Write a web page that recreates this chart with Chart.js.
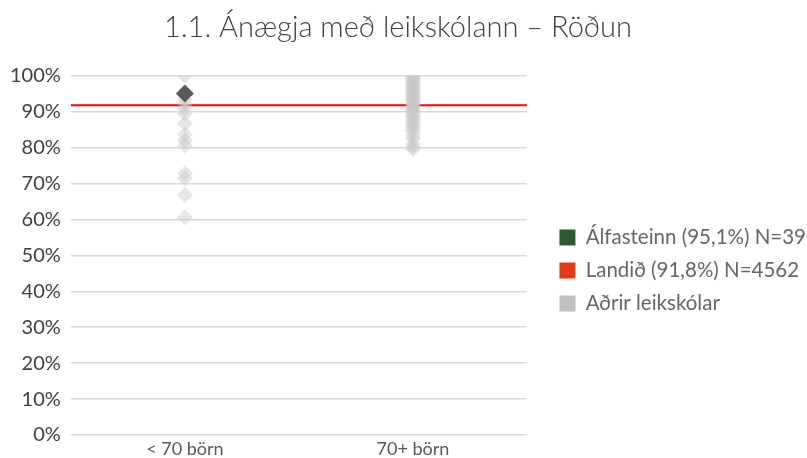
<!DOCTYPE html>
<html>
<head>
<meta charset="utf-8">
<script src="https://cdn.jsdelivr.net/npm/chart.js@4"></script>
<style>
  html, body { margin: 0; padding: 0; background: #fff; }
  #wrap { width: 807px; height: 458px; }
</style>
</head>
<body>
<div id="wrap"><canvas id="chart" width="807" height="458"></canvas></div>
<script>
const categories = ["< 70 börn", "70+ börn"];
const catPos = [0.5, 1.5];

// Aðrir leikskólar, < 70 börn
const otherSmall = [100, 93.4, 92.2, 90.8, 89.5, 86.7, 83.7, 82, 80.6, 72.8, 71.5, 66.8, 60.6];
// Aðrir leikskólar, 70+ börn
const otherLarge = [100, 99.6, 99.2, 98.8, 98.3, 97.9, 97.5, 97, 96.6, 96.1, 95.7, 95.2, 94.8,
  94.3, 93.9, 93.4, 92.9, 92.5, 92, 91.5, 91, 90.6, 90.1, 89.6, 89, 88.5, 88, 87.3, 86.6, 86,
  85.2, 84.5, 83.3, 82.5, 81, 80.2, 79.6];
const schoolValue = 95.1;   // Álfasteinn, < 70 börn
const nationalValue = 91.8; // Landið

const legendLabels = ["Álfasteinn (95,1%) N=39", "Landið (91,8%) N=4562", "Aðrir leikskólar"];
const legendColors = ["#2f5a30", "#e03c17", "#bfbfbf"];

const font = "Lato, 'Open Sans', sans-serif";

const grayPoints = otherSmall.map(v => ({ x: catPos[0], y: v }))
  .concat(otherLarge.map(v => ({ x: catPos[1], y: v })));

// push the legend a bit away from the plot, like the original
const legendShift = {
  id: "legendShift",
  afterLayout(chart) {
    const lg = chart.legend;
    const w = lg.right - lg.left;
    lg.left = chart.chartArea.right + 20;
    lg.right = lg.left + w;
  }
};

new Chart(document.getElementById("chart"), {
  type: "scatter",
  data: {
    datasets: [
      {
        label: legendLabels[0],
        data: [{ x: catPos[0], y: schoolValue }],
        pointStyle: "rectRot",
        pointRadius: 9,
        backgroundColor: "#595959",
        borderColor: "#595959",
        borderWidth: 0,
        order: 0
      },
      {
        label: legendLabels[1],
        type: "line",
        data: [{ x: 0, y: nationalValue }, { x: 2, y: nationalValue }],
        borderColor: "#ff0000",
        borderWidth: 2,
        pointRadius: 0,
        order: 2
      },
      {
        label: legendLabels[2],
        data: grayPoints,
        pointStyle: "rectRot",
        pointRadius: 8,
        backgroundColor: "rgba(200,200,200,0.45)",
        borderWidth: 0,
        order: 1
      }
    ]
  },
  options: {
    responsive: false,
    animation: false,
    layout: { autoPadding: false, padding: { left: 0, right: 11, top: 0, bottom: -5 } },
    plugins: {
      title: {
        display: true,
        text: "1.1. Ánægja með leikskólann – Röðun",
        color: "#404040",
        font: { family: font, size: 29, weight: "300" },
        padding: { top: 10, bottom: 31 }
      },
      legend: {
        position: "right",
        maxWidth: 320,
        title: { display: true, text: " ", font: { size: 10 }, padding: 33 },
        labels: {
          color: "#404040",
          font: { family: font, size: 20.5 },
          boxWidth: 16,
          boxHeight: 16,
          padding: 12.5,
          generateLabels: () => legendLabels.map((t, i) => ({
            text: t,
            fillStyle: legendColors[i],
            strokeStyle: legendColors[i],
            lineWidth: 0,
            datasetIndex: i
          }))
        }
      },
      tooltip: { enabled: false }
    },
    scales: {
      x: {
        type: "linear",
        min: 0,
        max: 2,
        afterBuildTicks: axis => { axis.ticks = catPos.map(v => ({ value: v })); },
        ticks: {
          color: "#595959",
          font: { family: font, size: 18, lineHeight: 1 },
          callback: v => categories[catPos.indexOf(v)],
          padding: 5
        },
        grid: { display: false, drawTicks: false },
        border: { display: false }
      },
      y: {
        min: 0,
        max: 100,
        ticks: {
          stepSize: 10,
          color: "#404040",
          font: { family: font, size: 20 },
          callback: v => v + "%",
          padding: 10
        },
        grid: { color: "#d9d9d9", lineWidth: 1.5, drawTicks: false },
        border: { display: false }
      }
    }
  },
  plugins: [legendShift]
});
</script>
</body>
</html>
